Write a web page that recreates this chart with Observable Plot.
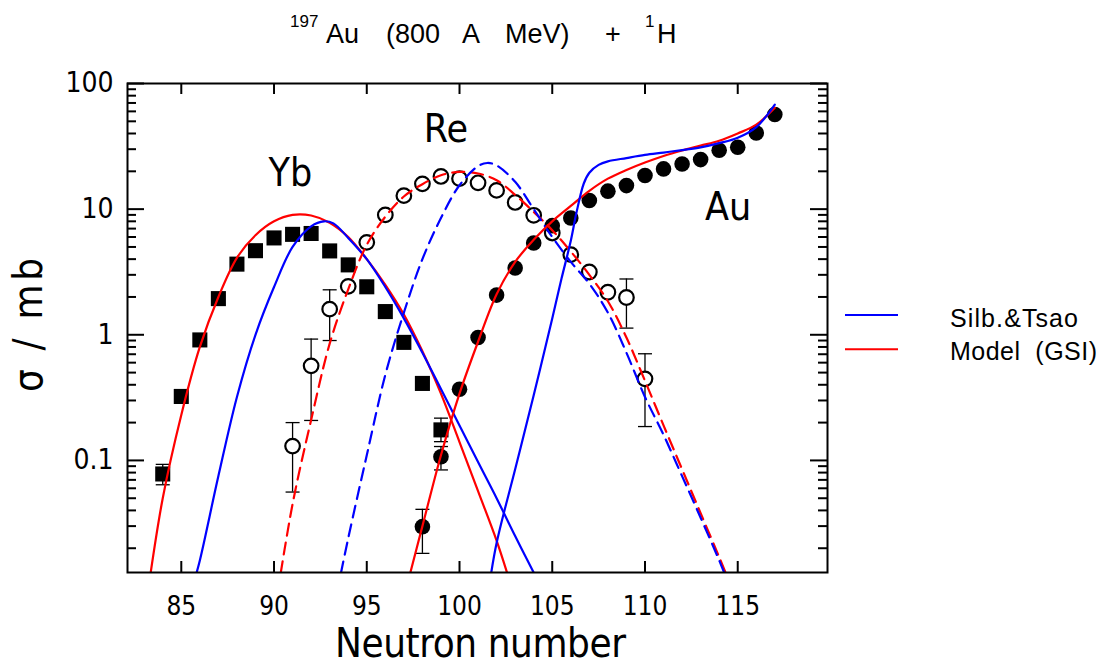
<!DOCTYPE html>
<html>
<head>
<meta charset="utf-8">
<script src="https://cdn.jsdelivr.net/npm/d3@7"></script>
<script src="https://cdn.jsdelivr.net/npm/@observablehq/plot@0.6"></script>
<style>
  body { margin: 0; background: #fff; }
  #wrap { position: relative; width: 1104px; height: 666px; }
  #wrap svg.overlay { position: absolute; left: 0; top: 0; pointer-events: none; }
</style>
</head>
<body>
<div id="wrap"></div>
<script>
const FONT = "'Liberation Sans Narrow', 'DejaVu Sans Condensed', 'Liberation Sans', sans-serif";
const FONT2 = "'Liberation Sans', 'DejaVu Sans', sans-serif";

// ---- axis ticks ----
const xTicks = [85, 90, 95, 100, 105, 110, 115];
const yTicks = [0.1, 1, 10, 100];
const yTickLabels = ["0.1", "1", "10", "100"];

// ---- measured points ----
const ybN = [84, 85, 86, 87, 88, 89, 90, 91, 92, 93, 94, 95, 96, 97, 98, 99];
const ybSigma = [0.078, 0.323, 0.91, 1.94, 3.65, 4.67, 5.9, 6.3, 6.4, 4.65, 3.6, 2.41, 1.53, 0.87, 0.41, 0.175];

const reN = [91, 92, 93, 94, 95, 96, 97, 98, 99, 100, 101, 102, 103, 104, 105, 106, 107, 108, 109, 110];
const reSigma = [0.13, 0.566, 1.6, 2.43, 5.44, 9.0, 12.8, 15.9, 18.2, 17.5, 16.2, 14.1, 11.3, 8.93, 6.46, 4.34, 3.16, 2.18, 1.98, 0.446];

const auN = [98, 99, 100, 101, 102, 103, 104, 105, 106, 107, 108, 109, 110, 111, 112, 113, 114, 115, 116, 117];
const auSigma = [0.0297, 0.107, 0.369, 0.952, 2.07, 3.4, 5.38, 7.39, 8.51, 11.7, 13.9, 15.4, 18.5, 20.9, 22.9, 24.8, 29.4, 31.1, 40.4, 56.6];

// error bars
const errN  = [84, 99, 91, 92, 93, 109, 110, 98, 99];
const errLo = [0.064, 0.141, 0.056, 0.208, 0.90, 1.13, 0.186, 0.0182, 0.084];
const errHi = [0.093, 0.217, 0.20, 0.924, 2.28, 2.78, 0.706, 0.0408, 0.129];

// ---- model curves ----
// Yb, Model (GSI)
const ybModelN = [83.2, 84, 85, 86, 87, 88, 89, 90, 91, 92, 93, 94, 95, 96, 97, 98, 99, 100, 101, 102, 102.7];
const ybModelS = [0.009, 0.05, 0.23, 0.8, 2.0, 4.1, 6.2, 8.0, 9.0, 8.9, 7.8, 6.0, 4.0, 2.5, 1.45, 0.74, 0.34, 0.14, 0.057, 0.023, 0.011];
// Yb, Silb.&Tsao
const ybSilbN = [85.7, 86, 87, 88, 89, 90, 91, 92, 92.7, 93.2, 94, 95, 96, 97, 98, 99, 100, 101, 102, 103, 104, 104.3];
const ybSilbS = [0.011, 0.016, 0.075, 0.32, 1.0, 2.4, 5.0, 7.3, 8.0, 7.7, 5.9, 4.0, 2.4, 1.35, 0.72, 0.37, 0.19, 0.097, 0.05, 0.025, 0.0128, 0.0105];
// Re, Model (GSI)
const reModelN = [90.2, 91, 92, 93, 94, 95, 96, 97, 98, 99, 100, 101, 102, 103, 104, 105, 106, 107, 108, 109, 110, 111, 112, 113, 114, 114.7];
const reModelS = [0.009, 0.045, 0.21, 0.85, 2.3, 5.2, 8.7, 12.6, 15.8, 18.6, 19.8, 19.2, 17, 13, 9.5, 6.8, 4.6, 3.0, 1.85, 0.95, 0.43, 0.19, 0.085, 0.038, 0.017, 0.0095];
// Re, Silb.&Tsao
const reSilbN = [93.4, 94, 95, 96, 97, 98, 99, 100, 101, 101.5, 102, 103, 104, 105, 106, 107, 108, 109, 110, 111, 112, 113, 114, 114.5];
const reSilbS = [0.009, 0.024, 0.11, 0.48, 1.5, 4.0, 8.5, 15.5, 22, 23.3, 22.3, 16.5, 10, 6.0, 3.8, 2.55, 1.5, 0.72, 0.32, 0.16, 0.075, 0.035, 0.016, 0.0105];
// Au, Model (GSI)
const auModelN = [97.2, 98, 99, 100, 101, 102, 103, 104, 105, 106, 107, 108, 109, 110, 111, 112, 113, 114, 115, 116, 117];
const auModelS = [0.0105, 0.03, 0.11, 0.34, 0.88, 2.1, 3.8, 5.7, 8.0, 10.6, 14.0, 17.5, 20.5, 23.5, 26.5, 29.3, 32, 35, 40, 47, 64];
// Au, Silb.&Tsao
const auSilbN = [101.6, 102, 103, 104, 105, 105.5, 106, 106.3, 106.7, 107, 107.5, 108, 109, 110, 111, 112, 113, 114, 115, 116, 117];
const auSilbS = [0.01, 0.022, 0.085, 0.33, 1.35, 2.8, 5.6, 9.3, 16, 19.5, 22.5, 24, 25.5, 27, 28.2, 29.5, 31, 33.5, 37, 45, 68];

// element labels
const labelText = ["Yb", "Re", "Au"];
const labelN = [90.88, 99.27, 114.48];
const labelS = [15.4, 34.0, 8.13];

// legend
const legendNames = ["Silb.&Tsao", "Model\u00a0\u00a0(GSI)"];
const legendColors = ["#0000ff", "#ff0000"];

// title pieces (text, superscript?)
const titleParts = [["197", true], ["Au", false], ["(800", false], ["A", false], ["MeV)", false], ["+", false], ["1", true], ["H", false]];
const titleX = [290, 326, 386, 462, 505, 605, 645, 657];

// ---- build tables ----
const pts = (N, S) => N.map((n, i) => ({n, s: S[i]}));
const yb = pts(ybN, ybSigma), re = pts(reN, reSigma), au = pts(auN, auSigma);
const errs = errN.map((n, i) => ({n, lo: errLo[i], hi: errHi[i]}));
const DASH = "12,7";
const curves = [
  {d: pts(ybModelN, ybModelS), c: legendColors[1], dash: null},
  {d: pts(ybSilbN, ybSilbS), c: legendColors[0], dash: null},
  {d: pts(reModelN, reModelS), c: legendColors[1], dash: DASH},
  {d: pts(reSilbN, reSilbS), c: legendColors[0], dash: DASH},
  {d: pts(auModelN, auModelS), c: legendColors[1], dash: null},
  {d: pts(auSilbN, auSilbS), c: legendColors[0], dash: null}
];
const labels = labelText.map((t, i) => ({t, n: labelN[i], s: labelS[i]}));
const yMinor = [];
for (const e of [0.01, 0.1, 1, 10]) for (let k = 2; k <= 9; k++) { const v = k * e; if (v > 0.0128 && v < 100) yMinor.push(v); }

const W = 1104, H = 666, ML = 127, MR = 277, MT = 83, MB = 94;
const FW = W - ML - MR, FH = H - MT - MB;

const capSymbol = {
  draw(ctx, size) { const r = Math.sqrt(size / Math.PI); ctx.moveTo(-r, 0); ctx.lineTo(r, 0); }
};

const chart = Plot.plot({
  width: W, height: H,
  marginLeft: ML, marginRight: MR, marginTop: MT, marginBottom: MB,
  style: {fontFamily: FONT, background: "white", color: "black"},
  x: {domain: [82.1, 119.84]},
  y: {type: "log", domain: [0.01282, 100]},
  marks: [
    // ticks inside the frame
    Plot.tickY(yTicks, {y: d => d, insetRight: FW - 17, stroke: "black", strokeWidth: 2}),
    Plot.tickY(yTicks, {y: d => d, insetLeft: FW - 17, stroke: "black", strokeWidth: 2}),
    Plot.tickY(yMinor, {y: d => d, insetRight: FW - 9, stroke: "black", strokeWidth: 2}),
    Plot.tickY(yMinor, {y: d => d, insetLeft: FW - 9, stroke: "black", strokeWidth: 2}),
    Plot.tickX(xTicks, {x: d => d, insetBottom: FH - 11, stroke: "black", strokeWidth: 2}),
    Plot.tickX(xTicks, {x: d => d, insetTop: FH - 11, stroke: "black", strokeWidth: 2}),
    Plot.axisX(xTicks, {tickSize: 0, tickPadding: 24, fontSize: 26, label: null, tickFormat: d => String(d)}),
    Plot.axisY(yTicks, {tickSize: 0, tickPadding: 14, fontSize: 28, label: null, tickFormat: d => yTickLabels[yTicks.indexOf(d)]}),
    // error bars
    Plot.ruleX(errs, {x: "n", y1: "lo", y2: "hi", stroke: "black", strokeWidth: 1.3}),
    Plot.dot(errs, {x: "n", y: "lo", symbol: capSymbol, r: 7, stroke: "black", strokeWidth: 1.3}),
    Plot.dot(errs, {x: "n", y: "hi", symbol: capSymbol, r: 7, stroke: "black", strokeWidth: 1.3}),
    // data points
    Plot.dot(yb, {x: "n", y: "s", symbol: "square", r: 8.5, fill: "black", stroke: "none"}),
    Plot.dot(re, {x: "n", y: "s", r: 7.3, fill: "white", stroke: "black", strokeWidth: 2.2}),
    Plot.dot(au, {x: "n", y: "s", r: 7.8, fill: "black", stroke: "none"}),
    // curves
    ...curves.map(c => Plot.line(c.d, {x: "n", y: "s", stroke: c.c, strokeWidth: 2.2, strokeDasharray: c.dash, curve: "catmull-rom", clip: true})),
    // element labels
    Plot.text(labels, {x: "n", y: "s", text: "t", fontSize: 39, lineAnchor: "bottom", textAnchor: "middle", fill: "black"}),
    Plot.frame({stroke: "black", strokeWidth: 2})
  ]
});

const wrap = document.getElementById("wrap");
wrap.appendChild(chart);

// overlay: title, axis titles, legend
const ov = d3.select(wrap).append("svg")
  .attr("class", "overlay").attr("width", W).attr("height", H)
  .style("font-family", FONT2);

titleParts.forEach(([txt, sup], i) => {
  ov.append("text").attr("x", titleX[i]).attr("y", sup ? 27 : 43)
    .attr("font-size", sup ? 17 : 27).attr("fill", "black").text(txt);
});

ov.append("text").attr("x", 335).attr("y", 657).attr("font-size", 40)
  .style("font-family", FONT)
  .attr("textLength", 291).attr("lengthAdjust", "spacing").text("Neutron number");

ov.append("text").attr("transform", "translate(42,392) rotate(-90)").attr("x", 0).attr("y", 0)
  .style("font-family", FONT)
  .attr("font-size", 40).attr("textLength", 134).attr("lengthAdjust", "spacing")
  .text("σ / mb");

const legY = [315, 349.3], legBase = [327, 360], legLen = [128, 147];
legendNames.forEach((name, i) => {
  ov.append("line").attr("x1", 845).attr("x2", 898).attr("y1", legY[i]).attr("y2", legY[i])
    .attr("stroke", legendColors[i]).attr("stroke-width", 2);
  ov.append("text").attr("x", 950).attr("y", legBase[i]).attr("font-size", 25)
    .attr("textLength", legLen[i]).attr("lengthAdjust", "spacing").text(name);
});
</script>
</body>
</html>
